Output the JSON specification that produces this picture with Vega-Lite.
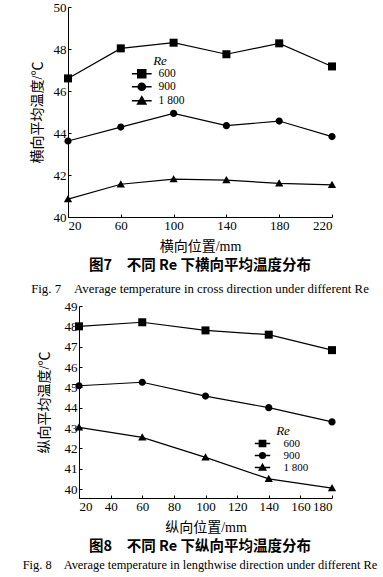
{
  "$schema": "https://vega.github.io/schema/vega-lite/v6.json",
  "background": "white",
  "padding": {"left": 22, "top": 1, "right": 5, "bottom": 4},
  "spacing": 89,
  "bounds": "flush",
  "resolve": {"scale": {"shape": "independent"}, "legend": {"shape": "independent"}},
  "config": {
    "view": {"stroke": null},
    "font": "Liberation Serif, Noto Sans CJK SC",
    "axis": {
      "grid": false,
      "domainColor": "black",
      "tickColor": "black",
      "tickSize": -3,
      "labelColor": "black",
      "titleColor": "black",
      "labelFont": "Liberation Serif",
      "labelFontSize": 13,
      "titleFont": "Liberation Serif, Noto Sans CJK SC",
      "titleFontSize": 14,
      "titleFontWeight": "normal",
      "labelPadding": 5
    },
    "legend": {
      "labelFont": "Liberation Serif",
      "labelFontSize": 11.5,
      "labelColor": "black",
      "titleFont": "Liberation Serif",
      "titleFontStyle": "italic",
      "titleFontSize": 13,
      "titleFontWeight": "normal",
      "titleColor": "black",
      "titleAnchor": "middle",
      "symbolOpacity": 1
    },
    "title": {
      "font": "Noto Sans CJK SC",
      "fontSize": 14.5,
      "fontWeight": "bold",
      "color": "black",
      "subtitleFont": "Liberation Serif",
      "subtitleFontSize": 12.4,
      "subtitleColor": "black"
    }
  },
  "datasets": {
    "cross": [
      {"pos": 20, "Re": "600", "T": 46.6},
      {"pos": 60, "Re": "600", "T": 48.03},
      {"pos": 100, "Re": "600", "T": 48.3},
      {"pos": 140, "Re": "600", "T": 47.75},
      {"pos": 180, "Re": "600", "T": 48.27},
      {"pos": 220, "Re": "600", "T": 47.17},
      {"pos": 20, "Re": "900", "T": 43.62},
      {"pos": 60, "Re": "900", "T": 44.28},
      {"pos": 100, "Re": "900", "T": 44.93},
      {"pos": 140, "Re": "900", "T": 44.35},
      {"pos": 180, "Re": "900", "T": 44.57},
      {"pos": 220, "Re": "900", "T": 43.83},
      {"pos": 20, "Re": "1 800", "T": 40.85},
      {"pos": 60, "Re": "1 800", "T": 41.56},
      {"pos": 100, "Re": "1 800", "T": 41.8},
      {"pos": 140, "Re": "1 800", "T": 41.76},
      {"pos": 180, "Re": "1 800", "T": 41.6},
      {"pos": 220, "Re": "1 800", "T": 41.53}
    ],
    "length": [
      {"pos": 20, "Re": "600", "T": 48.0},
      {"pos": 60, "Re": "600", "T": 48.2},
      {"pos": 100, "Re": "600", "T": 47.8},
      {"pos": 140, "Re": "600", "T": 47.59},
      {"pos": 180, "Re": "600", "T": 46.83},
      {"pos": 20, "Re": "900", "T": 45.08},
      {"pos": 60, "Re": "900", "T": 45.25},
      {"pos": 100, "Re": "900", "T": 44.57},
      {"pos": 140, "Re": "900", "T": 44.0},
      {"pos": 180, "Re": "900", "T": 43.3},
      {"pos": 20, "Re": "1 800", "T": 43.03},
      {"pos": 60, "Re": "1 800", "T": 42.54},
      {"pos": 100, "Re": "1 800", "T": 41.56},
      {"pos": 140, "Re": "1 800", "T": 40.5},
      {"pos": 180, "Re": "1 800", "T": 40.05}
    ]
  },
  "vconcat": [
    {
      "width": 264,
      "height": 210,
      "title": {
        "text": "图7　不同 Re 下横向平均温度分布",
        "subtitle": "Fig. 7　Average temperature in cross direction under different Re",
        "orient": "bottom",
        "anchor": "middle",
        "offset": 6,
        "subtitlePadding": 9,
        "subtitleFontSize": 12.8
      },
      "data": {"name": "cross"},
      "encoding": {
        "x": {
          "field": "pos", "type": "quantitative",
          "scale": {"domain": [20, 220], "nice": false},
          "axis": {"values": [20, 60, 100, 140, 180, 220], "title": "横向位置/mm", "titlePadding": 7}
        },
        "y": {
          "field": "T", "type": "quantitative",
          "scale": {"domain": [40, 50], "nice": false, "zero": false},
          "axis": {"values": [40, 42, 44, 46, 48, 50], "title": "横向平均温度/℃", "titlePadding": 9}
        }
      },
      "layer": [
        {
          "mark": {"type": "line", "color": "black", "strokeWidth": 1.2},
          "encoding": {"detail": {"field": "Re"}}
        },
        {
          "transform": [{"filter": "datum.Re == '600'"}],
          "mark": {"type": "point", "filled": true, "size": 81, "color": "black", "opacity": 1, "shape": "M-0.89,-0.89L0.89,-0.89L0.89,0.89L-0.89,0.89Z"}
        },
        {
          "transform": [{"filter": "datum.Re == '900'"}],
          "mark": {"type": "point", "filled": true, "size": 81, "color": "black", "opacity": 1, "shape": "M-0.8,0A0.8,0.8,0,1,0,0.8,0A0.8,0.8,0,1,0,-0.8,0Z"}
        },
        {
          "transform": [{"filter": "datum.Re == '1 800'"}],
          "mark": {"type": "point", "filled": true, "size": 81, "color": "black", "opacity": 1, "shape": "M0,-0.9L0.92,0.7L-0.92,0.7Z"}
        },
        {
          "mark": {"type": "point", "filled": false, "fill": "black", "stroke": "black", "strokeWidth": 1.2, "strokeJoin": "round", "strokeCap": "butt", "size": 81, "opacity": 0},
          "encoding": {
            "shape": {
              "field": "Re", "type": "nominal",
              "sort": ["600", "900", "1 800"],
              "scale": {
                "domain": ["600", "900", "1 800"],
                "range": [
                  "M-2.2,0L2.2,0M-0.89,-0.89L0.89,-0.89L0.89,0.89L-0.89,0.89Z",
                  "M-2.2,0L2.2,0M-0.8,0A0.8,0.8,0,1,0,0.8,0A0.8,0.8,0,1,0,-0.8,0Z",
                  "M-2.2,0L2.2,0M0,-0.9L0.92,0.7L-0.92,0.7Z"
                ]
              },
              "legend": {
                "title": "Re",
                "orient": "none",
                "legendX": 68,
                "legendY": 48,
                "symbolSize": 81,
                "labelOffset": 11,
                "rowPadding": -1,
                "titlePadding": 0
              }
            }
          }
        }
      ]
    },
    {
      "width": 264,
      "height": 192,
      "title": {
        "text": "图8　不同 Re 下纵向平均温度分布",
        "subtitle": "Fig. 8　Average temperature in lengthwise direction under different Re",
        "orient": "bottom",
        "anchor": "middle",
        "frame": "group",
        "offset": 6,
        "subtitlePadding": 4
      },
      "data": {"name": "length"},
      "encoding": {
        "x": {
          "field": "pos", "type": "quantitative",
          "scale": {"domain": [20, 180], "nice": false, "range": [11, 264]},
          "axis": {"values": [20, 40, 60, 80, 100, 120, 140, 160, 180], "title": "纵向位置/mm", "titlePadding": 7}
        },
        "y": {
          "field": "T", "type": "quantitative",
          "scale": {"domain": [39.56, 49], "nice": false, "zero": false},
          "axis": {"values": [40, 41, 42, 43, 44, 45, 46, 47, 48, 49], "title": "纵向平均温度/℃", "titlePadding": 13, "offset": -11}
        }
      },
      "layer": [
        {
          "mark": {"type": "line", "color": "black", "strokeWidth": 1.2},
          "encoding": {"detail": {"field": "Re"}}
        },
        {
          "transform": [{"filter": "datum.Re == '600'"}],
          "mark": {"type": "point", "filled": true, "size": 81, "color": "black", "opacity": 1, "shape": "M-0.89,-0.89L0.89,-0.89L0.89,0.89L-0.89,0.89Z"}
        },
        {
          "transform": [{"filter": "datum.Re == '900'"}],
          "mark": {"type": "point", "filled": true, "size": 81, "color": "black", "opacity": 1, "shape": "M-0.8,0A0.8,0.8,0,1,0,0.8,0A0.8,0.8,0,1,0,-0.8,0Z"}
        },
        {
          "transform": [{"filter": "datum.Re == '1 800'"}],
          "mark": {"type": "point", "filled": true, "size": 81, "color": "black", "opacity": 1, "shape": "M0,-0.9L0.92,0.7L-0.92,0.7Z"}
        },
        {
          "mark": {"type": "point", "filled": false, "fill": "black", "stroke": "black", "strokeWidth": 1.2, "strokeJoin": "round", "strokeCap": "butt", "size": 49, "opacity": 0},
          "encoding": {
            "shape": {
              "field": "Re", "type": "nominal",
              "sort": ["600", "900", "1 800"],
              "scale": {
                "domain": ["600", "900", "1 800"],
                "range": [
                  "M-2.2,0L2.2,0M-0.89,-0.89L0.89,-0.89L0.89,0.89L-0.89,0.89Z",
                  "M-2.2,0L2.2,0M-0.8,0A0.8,0.8,0,1,0,0.8,0A0.8,0.8,0,1,0,-0.8,0Z",
                  "M-2.2,0L2.2,0M0,-0.9L0.92,0.7L-0.92,0.7Z"
                ]
              },
              "legend": {
                "title": "Re",
                "orient": "none",
                "legendX": 189,
                "legendY": 119,
                "symbolSize": 49,
                "labelOffset": 15.5,
                "labelFontSize": 11,
                "rowPadding": -2,
                "titlePadding": 0
              }
            }
          }
        }
      ]
    }
  ]
}
